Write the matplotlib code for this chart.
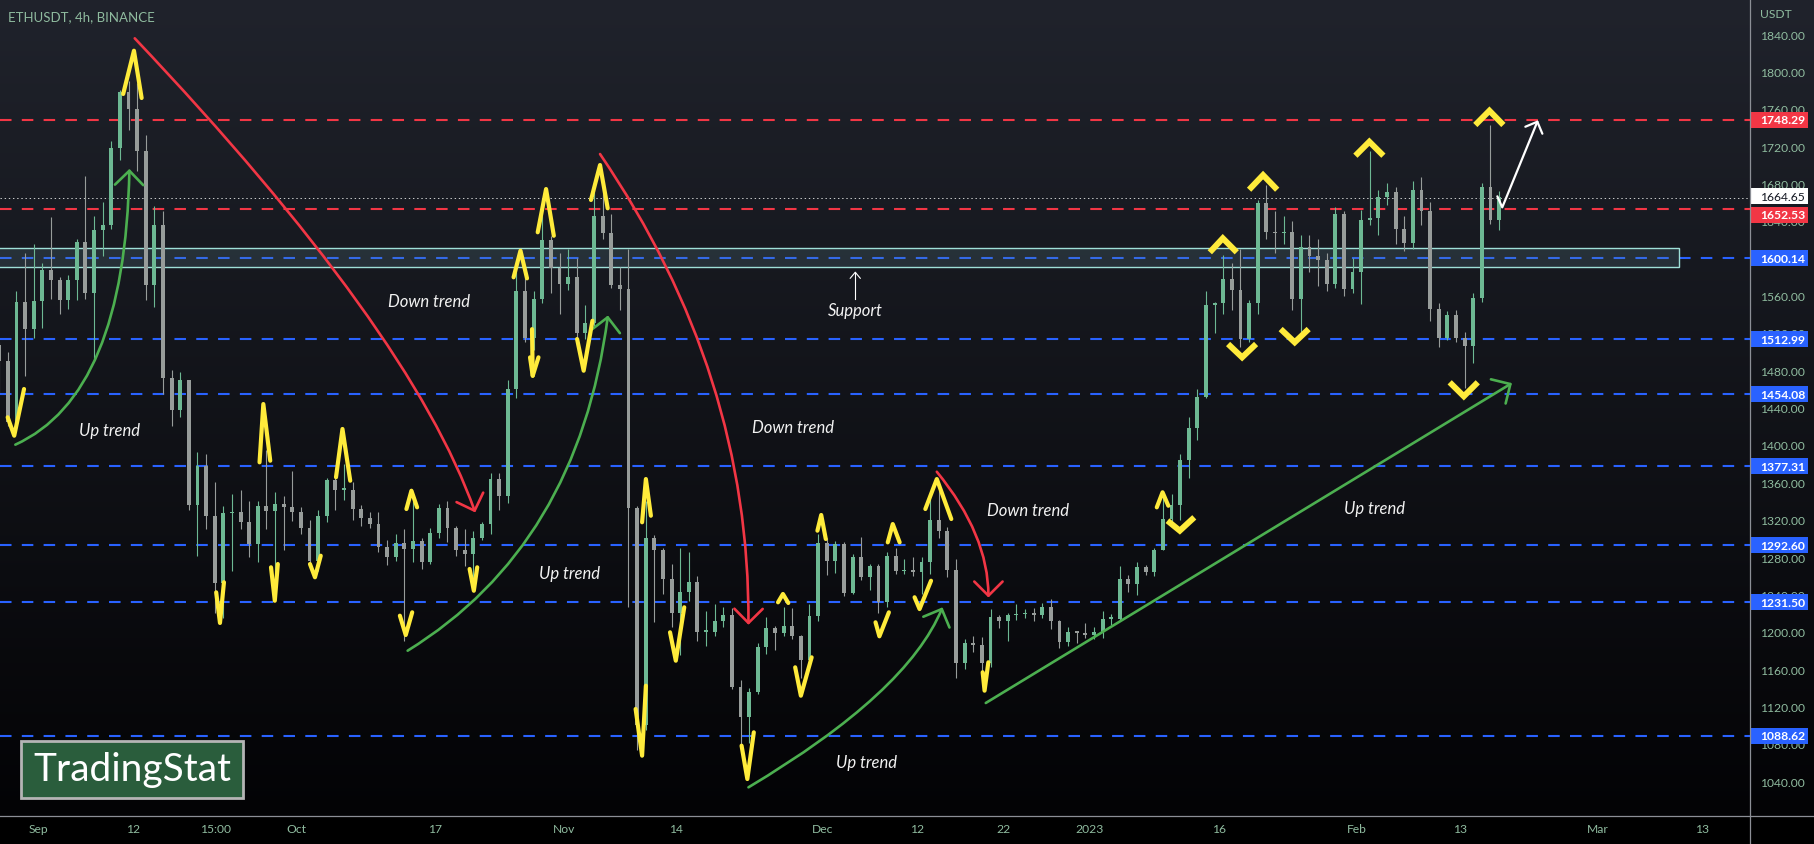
#! /bin/python
# ETHUSDT 4h (drawn with daily candles) - TradingView style markup

import numpy as np
import matplotlib
matplotlib.use("Agg")
import matplotlib.pyplot as plt
import matplotlib.transforms as mtransforms
from matplotlib.path import Path
from matplotlib.patches import PathPatch, Rectangle
from matplotlib.lines import Line2D

plt.rcParams['font.family'] = ['Lato', 'DejaVu Sans']
plt.rcParams['lines.scale_dashes'] = False

# ---- data : daily candles, day 0 = 2022-09-01
first_day = -5          # 2022-08-27
first_open = 1507
close = [1490, 1425, 1553, 1524, 1554,                                   # Aug 27-31
         1587, 1577, 1555, 1577, 1617, 1563, 1630, 1635, 1718, 1778,     # Sep
         1760, 1715, 1571, 1636, 1472, 1437, 1470, 1336, 1377, 1324,
         1252, 1327, 1328, 1317, 1294, 1335, 1329, 1337, 1334, 1328,
         1311, 1276, 1324, 1362, 1352, 1352, 1331, 1322, 1315, 1291,     # Oct
         1280, 1295, 1289, 1297, 1275, 1306, 1332, 1311, 1287, 1283,
         1300, 1315, 1364, 1345, 1460, 1565, 1515, 1556, 1619, 1590, 1572,
         1580, 1520, 1531, 1645, 1627, 1571, 1567, 1333, 1100, 1300,     # Nov
         1288, 1256, 1220, 1243, 1253, 1200, 1200, 1212, 1218, 1141,
         1109, 1136, 1184, 1204, 1199, 1206, 1195, 1170, 1217, 1295,
         1276, 1294, 1242, 1280, 1259, 1270, 1232, 1281, 1265, 1266,     # Dec
         1264, 1275, 1320, 1308, 1266, 1166, 1188, 1186, 1167, 1216,
         1211, 1218, 1219, 1220, 1218, 1226, 1212, 1189, 1200, 1199, 1196,
         1200, 1214, 1214, 1256, 1251, 1269, 1264, 1287, 1321, 1336,     # Jan
         1384, 1418, 1451, 1550, 1552, 1578, 1566, 1513, 1552, 1659,
         1628, 1627, 1628, 1556, 1612, 1602, 1598, 1572, 1647, 1567, 1585,
         1641, 1643, 1665, 1671, 1631, 1616, 1673, 1650, 1546, 1515,     # Feb
         1539, 1515, 1506, 1557, 1676, 1641, 1665]
high = [1510, 1500, 1565, 1605, 1615,
        1595, 1644, 1580, 1582, 1620, 1688, 1645, 1660, 1725, 1780,
        1790, 1788, 1732, 1656, 1650, 1480, 1478, 1470, 1392, 1390,
        1360, 1335, 1347, 1352, 1340, 1340, 1395, 1350, 1345, 1372,
        1334, 1320, 1330, 1365, 1365, 1380, 1360, 1336, 1328, 1328,
        1298, 1305, 1310, 1340, 1300, 1311, 1337, 1340, 1313, 1310,
        1308, 1318, 1370, 1370, 1470, 1593, 1580, 1565, 1664, 1624, 1605,
        1610, 1600, 1550, 1680, 1678, 1647, 1591, 1610, 1335, 1340,
        1304, 1290, 1272, 1290, 1285, 1260, 1222, 1230, 1226, 1225,
        1148, 1140, 1188, 1216, 1206, 1227, 1225, 1197, 1230, 1305,
        1300, 1297, 1296, 1283, 1301, 1272, 1272, 1285, 1290, 1278,
        1280, 1280, 1345, 1352, 1312, 1278, 1192, 1195, 1194, 1224,
        1218, 1220, 1230, 1224, 1225, 1231, 1235, 1213, 1205, 1201, 1209,
        1205, 1222, 1219, 1270, 1261, 1275, 1271, 1290, 1350, 1347,
        1390, 1430, 1460, 1565, 1553, 1603, 1595, 1610, 1555, 1662,
        1678, 1650, 1645, 1640, 1625, 1625, 1620, 1606, 1655, 1650, 1600,
        1652, 1715, 1673, 1680, 1676, 1645, 1683, 1687, 1660, 1552,
        1543, 1545, 1521, 1563, 1680, 1743, 1672]
low = [1455, 1420, 1422, 1474, 1515,
       1525, 1556, 1540, 1546, 1555, 1556, 1490, 1602, 1631, 1705,
       1737, 1693, 1555, 1548, 1455, 1420, 1430, 1330, 1281, 1310,
       1220, 1215, 1265, 1310, 1280, 1275, 1310, 1255, 1288, 1319,
       1305, 1270, 1265, 1317, 1330, 1341, 1320, 1313, 1311, 1285,
       1271, 1276, 1190, 1275, 1267, 1272, 1300, 1296, 1281, 1270,
       1255, 1298, 1305, 1330, 1338, 1450, 1510, 1502, 1552, 1563, 1540,
       1566, 1506, 1513, 1526, 1620, 1568, 1545, 1227, 1073, 1095,
       1210, 1240, 1205, 1175, 1233, 1190, 1185, 1195, 1205, 1139,
       1073, 1081, 1133, 1176, 1180, 1195, 1192, 1150, 1166, 1212,
       1261, 1263, 1238, 1240, 1255, 1245, 1220, 1227, 1262, 1262,
       1260, 1240, 1262, 1300, 1259, 1150, 1160, 1178, 1153, 1162,
       1204, 1190, 1213, 1215, 1212, 1215, 1203, 1183, 1185, 1188, 1193,
       1192, 1193, 1207, 1212, 1243, 1239, 1261, 1260, 1287, 1314,
       1320, 1365, 1405, 1450, 1520, 1540, 1545, 1505, 1510, 1540,
       1620, 1605, 1615, 1545, 1520, 1585, 1570, 1565, 1568, 1560, 1563,
       1551, 1635, 1625, 1657, 1615, 1608, 1610, 1635, 1533, 1505,
       1512, 1510, 1461, 1488, 1553, 1637, 1630]

red_levels = [1748.29, 1652.53]
blue_levels = [1600.14, 1512.99, 1454.08, 1377.31, 1292.60, 1231.50, 1088.62]
last_price = 1664.65
support_zone = (1590.2, 1610.6, 190.4)   # bottom, top, right end (day)

tick_days = [0, 11, 20.625, 30, 46, 61, 74, 91, 102, 112, 122, 137, 153, 165, 181, 193]
tick_names = ['Sep', '12', '15:00', 'Oct', '17', 'Nov', '14', 'Dec', '12', '22',
              '2023', '16', 'Feb', '13', 'Mar', '13']
price_ticks = list(range(1040, 1841, 40))

# ---- markup (day, price)
red_curves = [[(11.22, 1835.4), (43.16, 1524.2), (50.65, 1329.6)],
              [(65.20, 1711.5), (82.60, 1475.9), (82.42, 1209.4)],
              [(104.27, 1371.3), (110.26, 1303.9), (110.26, 1238.6)]]
green_curves = [[(-2.63, 1400.3), (10.09, 1453.5), (10.60, 1693.6)],
                [(42.88, 1179.7), (62.62, 1292.0), (66.09, 1536.7)],
                [(82.42, 1033.4), (100.84, 1134.7), (104.85, 1224.3)]]
green_line = [(109.95, 1123.7), (170.81, 1465.2)]
white_arrow = [(169.30, 1666.2), (169.87, 1654.4), (173.94, 1746.1)]

trend_labels = [('Down trend', 45.41, 1554.4), ('Up trend', 8.33, 1416.3),
                ('Up trend', 61.64, 1262.9), ('Down trend', 87.62, 1418.9),
                ('Up trend', 96.06, 1060.9), ('Down trend', 114.84, 1330.6),
                ('Up trend', 155.02, 1332.5)]

pivots = [
    [(9.88, 1775.8), (11.13, 1822.1), (12.02, 1771.5)],
    [(57.97, 1627.7), (58.94, 1674.0), (59.84, 1624.0)],
    [(55.17, 1579.5), (55.97, 1608.0), (56.73, 1578.4)],
    [(57.08, 1493.8), (57.39, 1474.1), (58.06, 1493.8)],
    [(57.31, 1524.0), (57.39, 1474.1)],
    [(62.54, 1513.4), (63.30, 1479.5), (64.32, 1533.0)],
    [(-3.52, 1429.6), (-2.76, 1409.9), (-1.62, 1459.9)],
    [(25.70, 1381.4), (26.14, 1443.8), (26.94, 1383.1)],
    [(34.57, 1365.4), (35.32, 1417.1), (36.22, 1361.7)],
    [(42.74, 1331.4), (43.32, 1351.0), (43.98, 1333.2)],
    [(20.67, 1242.2), (21.11, 1209.4), (21.57, 1253.0)],
    [(27.03, 1269.0), (27.47, 1233.2), (27.82, 1272.5)],
    [(31.55, 1272.5), (32.13, 1258.3), (32.80, 1281.4)],
    [(41.98, 1217.2), (42.66, 1196.5), (43.41, 1220.8)],
    [(50.07, 1267.2), (50.56, 1243.9), (50.95, 1269.0)],
    [(70.08, 1317.2), (70.52, 1363.5), (71.10, 1324.2)],
    [(69.33, 1117.3), (70.08, 1067.3), (70.52, 1142.2)],
    [(73.32, 1199.4), (73.99, 1169.0), (74.97, 1226.2)],
    [(81.62, 1078.0), (82.29, 1042.3), (83.04, 1092.3)],
    [(85.85, 1231.5), (86.42, 1240.4), (87.04, 1230.8)],
    [(87.84, 1161.9), (88.50, 1131.5), (89.75, 1172.6)],
    [(90.42, 1308.2), (90.86, 1325.0), (91.39, 1299.3)],
    [(98.58, 1295.7), (99.16, 1315.3), (99.96, 1295.7)],
    [(97.16, 1210.1), (97.61, 1195.1), (98.71, 1220.8)],
    [(101.69, 1236.9), (102.27, 1224.3), (103.60, 1254.6)],
    [(102.94, 1331.4), (104.27, 1363.5), (105.95, 1320.7)],
    [(109.59, 1156.6), (109.81, 1136.9), (110.25, 1167.3)],
    [(129.79, 1333.2), (130.46, 1349.3), (131.13, 1334.9)],
    [(64.15, 1662.3), (65.20, 1699.7), (66.09, 1653.4)],
]
chevrons = [
    [(131.03, 1318.9), (132.46, 1308.2), (134.14, 1322.5)],
    [(135.94, 1606.3), (137.45, 1621.3), (139.07, 1606.3)],
    [(138.06, 1508.1), (139.69, 1493.8), (141.31, 1508.1)],
    [(140.50, 1673.3), (142.12, 1689.0), (143.76, 1673.3)],
    [(144.16, 1524.1), (145.79, 1509.9), (147.41, 1524.1)],
    [(152.83, 1709.7), (154.45, 1724.7), (156.08, 1709.7)],
    [(166.74, 1742.6), (168.38, 1757.9), (170.00, 1742.6)],
    [(163.77, 1467.1), (165.41, 1452.1), (167.03, 1467.1)],
]

# ---- colours
RED = '#f23645'
BLUE = '#2962ff'
GREEN = '#4caf50'
YELLOW = '#ffeb3b'
TXT = '#8fbb9f'
UP = '#6db893'
DOWN = '#979c9a'

W, H = 1814, 845
fig = plt.figure(figsize=(W / 100, H / 100), dpi=100)

# background gradient
bg = fig.add_axes([0, 0, 1, 1], zorder=-10)
rows = np.arange(H)[:, None]
top = np.array([32, 35, 44]) / 255
bot = np.array([3, 3, 5]) / 255
frac = np.clip(rows / 817.0, 0, 1)
grad = (top * (1 - frac) + bot * frac)[:, None, :]
grad[817:] = 0
bg.imshow(grad, aspect='auto', extent=[0, 1, 0, 1])
bg.axis('off')

ax = fig.add_axes([0, 28 / H, 1750 / W, 817 / H])
ax.set_facecolor('none')
ax.set_xlim(-4.41, 198.61)
ax.set_ylim(1002.7, 1877.5)
for s in ax.spines.values():
    s.set_visible(False)

# levels
for lv in red_levels:
    ax.axhline(lv, color=RED, lw=1.5, dashes=(8.3, 7.4), zorder=1)
for lv in blue_levels:
    ax.axhline(lv, color=BLUE, lw=1.5, dashes=(8.3, 7.4), zorder=1)
ax.axhline(last_price, color='#d0d0d0', lw=0.7, ls=(0, (1, 2)), zorder=1)

ax.add_patch(Rectangle((-10, support_zone[0]), support_zone[2] + 10,
                       support_zone[1] - support_zone[0],
                       fc='#5f8791', alpha=0.22, ec='none', zorder=1.2))
ax.add_patch(Rectangle((-10, support_zone[0]), support_zone[2] + 10,
                       support_zone[1] - support_zone[0],
                       fc='none', ec='#9fe0d8', lw=1.0, zorder=1.3))

# candles
days = np.arange(len(close)) + first_day + 0.5
opens = np.array([first_open] + close[:-1], dtype=float)
closes = np.array(close, dtype=float)
cols = np.where(closes >= opens, UP, DOWN)
ax.vlines(days, low, high, colors=cols, lw=0.8, zorder=2)
ax.bar(days, np.maximum(np.abs(closes - opens), 1.5), bottom=np.minimum(opens, closes),
       width=0.45, color=cols, lw=0, zorder=2)


def head(tip, back, color, lw, size=20, ang=45):
    t = ax.transData.transform(tip)
    b = ax.transData.transform(back)
    v = (b - t) / np.hypot(*(b - t))
    inv = ax.transData.inverted()
    pts = []
    for s in (ang, -ang):
        r = np.radians(s)
        w = np.array([v[0] * np.cos(r) - v[1] * np.sin(r),
                      v[0] * np.sin(r) + v[1] * np.cos(r)])
        pts.append(inv.transform(t + w * size))
    ax.plot([pts[0][0], tip[0], pts[1][0]], [pts[0][1], tip[1], pts[1][1]],
            color=color, lw=lw, solid_capstyle='round', solid_joinstyle='round', zorder=4)


def curve(pts, color):
    path = Path(pts, [Path.MOVETO, Path.CURVE3, Path.CURVE3])
    ax.add_patch(PathPatch(path, fc='none', ec=color, lw=1.9, zorder=4, capstyle='round'))
    head(pts[2], pts[1], color, 1.9)


for c in red_curves:
    curve(c, RED)
for c in green_curves:
    curve(c, GREEN)
ax.plot(*zip(*green_line), color=GREEN, lw=1.9, zorder=4, solid_capstyle='round')
head(green_line[1], green_line[0], GREEN, 1.9)
ax.plot(*zip(*white_arrow), color='white', lw=1.6, zorder=4, solid_capstyle='round')
head(white_arrow[2], white_arrow[1], 'white', 1.6, size=13)

for p in pivots:
    ax.plot(*zip(*p), color=YELLOW, lw=3, zorder=5,
            solid_capstyle='round', solid_joinstyle='round')
for p in chevrons:
    ax.plot(*zip(*p), color=YELLOW, lw=4.3, zorder=5,
            solid_capstyle='butt', solid_joinstyle='miter')

for s, d, p in trend_labels:
    ax.text(d, p, s, ha='center', va='center', color='#f2f2f2', fontsize=12,
            fontstyle='italic', zorder=6)

# support note
ax.plot([94.81, 94.81], [1556.3, 1584.9], color='white', lw=0.8, zorder=6)
head((94.81, 1584.9), (94.81, 1556.3), 'white', 0.8, size=8, ang=40)
ax.text(94.85, 1544.5, 'Support', ha='center', va='center', color='#f2f2f2',
        fontsize=12, fontstyle='italic', zorder=6)

# axes
ax.yaxis.tick_right()
ax.set_yticks(price_ticks)
ax.set_yticklabels([f'{v:.2f}' for v in price_ticks])
ax.set_xticks(tick_days)
ax.set_xticklabels(tick_names)
ax.tick_params(axis='y', length=0, pad=7.2, labelsize=8.7, labelcolor=TXT)
ax.tick_params(axis='x', length=0, pad=5.0, labelsize=8.7, labelcolor=TXT)

# price labels on the scale (the 1652.53 tag is pushed down under the last-price tag)
tr = mtransforms.blended_transform_factory(ax.transAxes, ax.transData)
boxes = [(1748.29, 1748.29, RED, 'white'), (1652.53, 1646.3, RED, 'white')] + \
        [(lv, lv, BLUE, 'white') for lv in blue_levels] + \
        [(last_price, 1666.3, 'white', '#131722')]
for lv, pos, fc, tc in boxes:
    ax.add_patch(Rectangle((1.0, pos - 8.6), 58 / 1750, 17.2, transform=tr, fc=fc,
                           ec='none', clip_on=False, zorder=7))
    ax.text(1.0 + 10 / 1750, pos, f'{lv:.2f}', transform=tr, ha='left', va='center',
            color=tc, fontsize=8.7, fontweight='bold' if tc == 'white' else 'normal',
            clip_on=False, zorder=8)

fig.add_artist(Line2D([1750 / W, 1750 / W], [0, 1], color='#8c8f96', lw=0.9))
fig.add_artist(Line2D([0, 1], [28 / H, 28 / H], color='#8c8f96', lw=0.9))

fig.text(8 / W, 1 - 17 / H, 'ETHUSDT, 4h, BINANCE', color=TXT, fontsize=9.5, va='center')
fig.text(1760 / W, 1 - 14 / H, 'USDT', color=TXT, fontsize=8.7, va='center')

# watermark
fig.add_artist(Rectangle((21 / W, 46 / H), 222 / W, 57 / H, transform=fig.transFigure,
                         fc='#2a5d3c', ec='#b5b5b5', lw=2))
fig.text(132 / W, 1 - 770 / H, 'TradingStat', color='white', fontsize=28,
         ha='center', va='center')

plt.savefig('out.png', dpi=100)
